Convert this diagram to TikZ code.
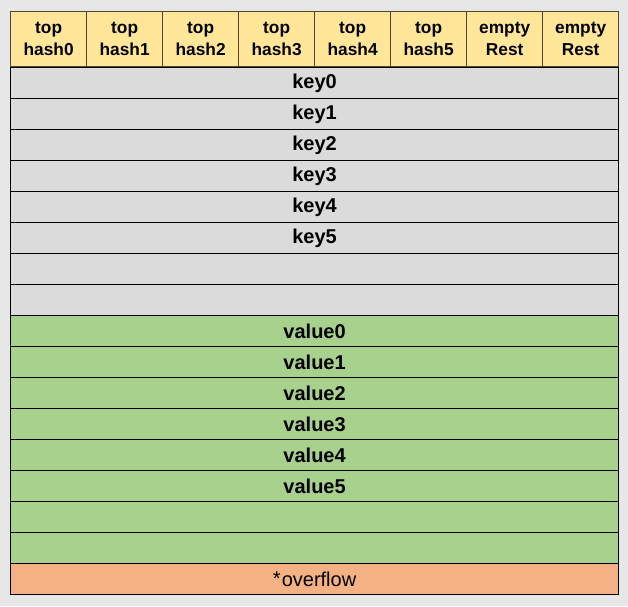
\documentclass[tikz,border=0pt]{standalone}
\usepackage{fontspec}
\setmainfont{Liberation Sans}
\begin{document}
\begin{tikzpicture}[x=1pt,y=-1pt,
  hdr/.style={draw=hdrline,fill=hdrfill,line width=1.3pt,minimum width=76pt,minimum height=55pt,inner sep=0pt,anchor=north west,
    font=\fontsize{17.3}{22.5}\selectfont\bfseries,align=center},
  keyrow/.style={draw=black,fill=keyfill,line width=1.2pt,minimum width=608pt,minimum height=31pt,inner sep=0pt,anchor=north west,
    font=\fontsize{20}{21}\selectfont\bfseries},
  valrow/.style={keyrow,fill=valfill},
  ovfrow/.style={keyrow,fill=ovffill,font=\fontsize{20}{21}\selectfont}]
\definecolor{bgcol}{HTML}{E8E7E8}
\definecolor{hdrfill}{HTML}{FFE699}
\definecolor{hdrline}{HTML}{4F4632}
\definecolor{keyfill}{HTML}{DCDBDC}
\definecolor{valfill}{HTML}{A9D18E}
\definecolor{ovffill}{HTML}{F4B183}
\fill[bgcol] (0,0) rectangle (628,606);
\useasboundingbox (0,0) rectangle (628,606);
% bucket header: tophash array
\node[hdr] (h0) at (10,11) {top\\hash0};
\node[hdr] (h1) at (86,11) {top\\hash1};
\node[hdr] (h2) at (162,11) {top\\hash2};
\node[hdr] (h3) at (238,11) {top\\hash3};
\node[hdr] (h4) at (314,11) {top\\hash4};
\node[hdr] (h5) at (390,11) {top\\hash5};
\node[hdr] (h6) at (466,11) {empty\\Rest};
\node[hdr] (h7) at (542,11) {empty\\Rest};
% keys
\node[keyrow] (k0) at (10,67) {key0};
\node[keyrow] (k1) at (10,98) {key1};
\node[keyrow] (k2) at (10,129) {key2};
\node[keyrow] (k3) at (10,160) {key3};
\node[keyrow] (k4) at (10,191) {key4};
\node[keyrow] (k5) at (10,222) {key5};
\node[keyrow] (k6) at (10,253) {};
\node[keyrow] (k7) at (10,284) {};
% values
\node[valrow] (v0) at (10,315) {value0};
\node[valrow] (v1) at (10,346) {value1};
\node[valrow] (v2) at (10,377) {value2};
\node[valrow] (v3) at (10,408) {value3};
\node[valrow] (v4) at (10,439) {value4};
\node[valrow] (v5) at (10,470) {value5};
\node[valrow] (v6) at (10,501) {};
\node[valrow] (v7) at (10,532) {};
% overflow pointer
\node[ovfrow] (ov) at (10,563) {\raisebox{0.02em}{\fontsize{20}{20}\selectfont*}\kern0.05em overflow};
\end{tikzpicture}
\end{document}
